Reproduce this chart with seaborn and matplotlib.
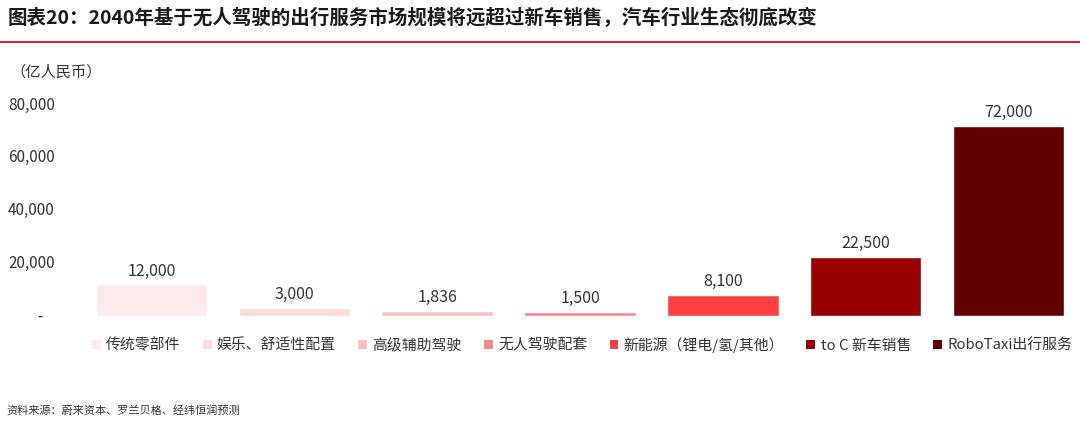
import matplotlib
matplotlib.use("Agg")
import matplotlib.pyplot as plt
from matplotlib.patches import Patch
from matplotlib.lines import Line2D
import seaborn as sns
import pandas as pd

# Data
categories = ['传统零部件', '娱乐、舒适性配置', '高级辅助驾驶', '无人驾驶配套',
              '新能源（锂电/氢/其他）', 'to C 新车销售', 'RoboTaxi出行服务']
values = [12000, 3000, 1836, 1500, 8100, 22500, 72000]
colors = ['#FDEBEC', '#FADBDC', '#F8BEC0', '#F48A8D', '#FF4040', '#990000', '#610000']
yticks = [0, 20000, 40000, 60000, 80000]
ytick_labels = ['-', '20,000', '40,000', '60,000', '80,000']

df = pd.DataFrame({'cat': categories, 'val': values})

sns.set_theme(style='white')
plt.rcParams['font.family'] = ['Noto Sans CJK SC', 'DejaVu Sans']

fig = plt.figure(figsize=(10.8, 4.26), dpi=100)
ax = fig.add_axes([80 / 1080, 1 - 316 / 426, 1000 / 1080, (316 - 105) / 426])

sns.barplot(data=df, x='cat', y='val', hue='cat', palette=colors,
            width=0.78, legend=False, ax=ax, saturation=1)

for i, v in enumerate(values):
    ax.text(i, v + 1800, f"{v:,}", ha='center', va='bottom', fontsize=11.5, color='#333333')

ax.set_ylim(0, 80000)
ax.set_xlim(-0.5, len(categories) - 0.5)
ax.set_yticks(yticks)
ax.set_yticklabels([])
for t, lab in zip(yticks, ytick_labels):
    xpos = 40 if lab == '-' else 55
    fig.text(xpos / 1080, 1 - (316 - t / 80000 * 211) / 426, lab,
             ha='right' if lab != '-' else 'center', va='center',
             fontsize=11, color='#333333')
ax.set_xticks([])
ax.set_xlabel('')
ax.set_ylabel('')
ax.tick_params(left=False, bottom=False)
sns.despine(ax=ax, left=True, bottom=True)

handles = [Patch(facecolor=c, edgecolor='none') for c in colors]
leg = fig.legend(handles, categories, loc='center left', bbox_to_anchor=(92 / 1080, 1 - 345 / 426),
                 ncol=7, frameon=False, fontsize=10.7, handlelength=0.6, handleheight=0.6,
                 handletextpad=0.35, columnspacing=1.5, borderpad=0, borderaxespad=0)
for t in leg.get_texts():
    t.set_color('#333333')

# Title, rule line, unit, source
fig.text(8 / 1080, 1 - 18 / 426, '图表20：2040年基于无人驾驶的出行服务市场规模将远超过新车销售，汽车行业生态彻底改变',
         ha='left', va='center', fontsize=14, fontweight='bold', color='#1a1a1a')
fig.add_artist(Line2D([0, 1], [1 - 42 / 426, 1 - 42 / 426], color='#D9262B', lw=1.5))
fig.text(10 / 1080, 1 - 72 / 426, '（亿人民币）', ha='left', va='center', fontsize=11, color='#333333')
fig.text(6 / 1080, 1 - 411 / 426, '资料来源：蔚来资本、罗兰贝格、经纬恒润预测', ha='left', va='center',
         fontsize=8, color='#333333')

fig.savefig('out.png', dpi=100)
